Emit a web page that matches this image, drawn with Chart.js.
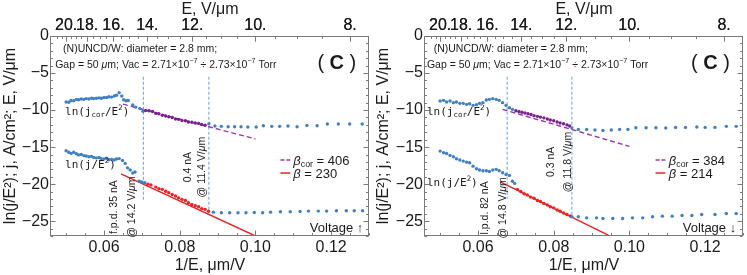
<!DOCTYPE html>
<html>
<head>
<meta charset="utf-8">
<script src="https://cdn.jsdelivr.net/npm/chart.js@4.4.1/dist/chart.umd.min.js"></script>
<style>
body { margin: 0; background: #fff; }
#wrap { display: flex; width: 747px; height: 275px; }
canvas { display: block; }
</style>
</head>
<body>
<div id="wrap">
  <canvas id="left" width="373" height="275"></canvas>
  <canvas id="right" width="374" height="275"></canvas>
</div>
<script>
// axes
var xMin = 0.046, xMax = 0.130, yMin = -27, yMax = 0;
var xTicks = [0.06, 0.08, 0.10, 0.12];
var eTicks = [20, 18, 16, 14, 12, 10, 8];
var yTicks = [0, -5, -10, -15, -20, -25];

// left panel, voltage up
var upX_L = [0.0500,0.0507,0.0513,0.0520,0.0527,0.0533,0.0540,0.0547,0.0553,0.0560,0.0567,0.0573,0.0580,0.0587,0.0593,0.0600,0.0607,0.0613,0.0620,0.0627,0.0633,0.0640,
  0.0647,0.0652,0.0658,0.0664,0.0676,0.0684,0.0695,
  0.0703,0.0710,0.0719,0.0728,0.0737,0.0745,0.0754,0.0763,0.0771,0.0780,0.0789,0.0797,0.0806,0.0815,0.0823,0.0832,0.0841,0.0850,0.0858,0.0867,0.0877,
  0.0893,0.0910,0.0928,0.0945,0.0962,0.0980,0.1002,0.1021,0.1043,0.1064,0.1086,0.1110,0.1136,0.1163,0.1190,0.1219,0.1249,0.1282];
var upY_L = [-8.9,-8.95,-8.7,-8.75,-8.55,-8.6,-8.5,-8.55,-8.45,-8.5,-8.4,-8.45,-8.4,-8.35,-8.4,-8.3,-8.3,-8.2,-8.25,-8.1,-8.0,-7.65,
  -8.1,-8.6,-8.75,-8.7,-9.3,-9.6,-9.8,
  -10.15,-10.05,-10.1,-10.2,-10.45,-10.5,-10.7,-10.8,-10.9,-11.0,-11.2,-11.25,-11.4,-11.45,-11.6,-11.65,-11.75,-11.8,-11.95,-12.05,-11.85,
  -12.16,-12.2,-12.25,-12.25,-12.25,-12.29,-12.29,-12.11,-12.2,-12.2,-12.16,-12.25,-12.07,-12.11,-11.89,-11.89,-11.89,-11.89];
var lowX_L = [0.0500,0.0507,0.0513,0.0520,0.0527,0.0533,0.0540,0.0547,0.0553,0.0560,0.0567,0.0573,0.0580,0.0587,0.0593,0.0600,0.0607,0.0613,0.0620,0.0627,0.0633,0.0640,
  0.0649,0.0656,0.0662,0.0669,0.0676,0.0682,0.0693,0.0700,0.0708,
  0.0716,0.0724,0.0737,0.0745,0.0754,0.0763,0.0771,0.0780,0.0789,0.0797,0.0806,0.0815,0.0823,0.0832,0.0841,0.0850,0.0858,0.0867,0.0876,
  0.0889,0.0910,0.0932,0.0954,0.0975,0.0997,0.1019,0.1040,0.1066,0.1092,0.1118,0.1140,0.1166,0.1188,0.1214,0.1240,0.1261,0.1283];
var lowY_L = [-15.5,-15.7,-15.85,-15.7,-15.9,-16.05,-16.0,-16.15,-16.2,-16.3,-16.25,-16.4,-16.45,-16.4,-16.55,-16.6,-16.5,-16.7,-16.65,-16.75,-16.6,-16.55,
  -16.8,-17.2,-17.8,-18.1,-18.5,-18.35,-19.6,-19.7,-19.8,
  -20.0,-20.1,-20.4,-20.6,-20.7,-20.95,-21.15,-21.4,-21.6,-21.85,-22.05,-22.2,-22.5,-22.75,-22.9,-23.05,-23.3,-23.4,-23.65,
  -23.78,-23.87,-23.87,-23.87,-23.87,-23.83,-23.87,-23.78,-23.73,-23.73,-23.69,-23.64,-23.64,-23.64,-23.6,-23.6,-23.6,-23.6];
var corFitX_L = [0.065, 0.100], corFitY_L = [-9.2, -13.9];
var fitX_L = [0.0645, 0.100], fitY_L = [-18.6, -27.0];
var markX_L = [0.0704, 0.0877], markTop_L = [-5.5, -5.5], markBot_L = [-22.1, -23.9];
var upRange_L = [0.0706, 0.0872], lowRange_L = [0.0712, 0.0880];
var betaCor_L = 406, beta_L = 230;

// right panel, voltage down
var upX_R = [0.0500,0.0509,0.0517,0.0526,0.0535,0.0543,0.0552,0.0561,0.0570,0.0578,0.0587,0.0596,0.0604,0.0613,0.0622,0.0630,0.0639,0.0648,0.0656,0.0665,0.0674,0.0683,0.0691,
  0.0700,0.0708,0.0716,0.0724,0.0732,0.0740,0.0748,0.0757,0.0765,0.0774,0.0783,0.0791,0.0800,0.0809,0.0817,0.0826,0.0835,0.0842,0.0848,
  0.0865,0.0887,0.0909,0.0930,0.0952,0.0974,0.0996,0.1017,0.1044,0.1070,0.1096,0.1122,0.1148,0.1178,0.1200,0.1226,0.1256,0.1282];
var upY_R = [-8.78,-8.69,-8.92,-8.78,-9.0,-8.92,-9.09,-9.09,-9.23,-9.14,-9.36,-9.27,-9.09,-9.0,-8.64,-8.55,-8.46,-8.55,-8.69,-9.0,-9.36,-9.68,-9.9,
  -10.1,-10.2,-10.3,-10.4,-10.5,-10.6,-10.75,-10.85,-10.95,-11.05,-11.2,-11.35,-11.45,-11.6,-11.75,-11.85,-12.0,-12.15,-12.4,
  -12.61,-12.61,-12.7,-12.75,-12.7,-12.61,-12.61,-12.39,-12.39,-12.39,-12.43,-12.34,-12.34,-12.29,-12.34,-12.34,-12.2,-12.2];
var lowX_R = [0.0500,0.0509,0.0517,0.0526,0.0535,0.0543,0.0552,0.0561,0.0570,0.0578,0.0587,0.0596,0.0604,0.0613,0.0622,0.0630,0.0639,0.0648,0.0656,0.0665,0.0674,0.0683,
  0.0691,0.0697,
  0.0704,0.0713,0.0722,0.0730,0.0739,0.0748,0.0757,0.0765,0.0774,0.0783,0.0791,0.0800,0.0809,0.0817,0.0826,0.0835,0.0844,
  0.0848,0.0865,0.0887,0.0913,0.0930,0.0956,0.0982,0.1008,0.1035,0.1061,0.1087,0.1113,0.1139,0.1165,0.1191,0.1226,0.1256,0.1282];
var lowY_R = [-15.54,-15.77,-15.86,-16.12,-16.3,-16.57,-16.75,-16.89,-17.03,-17.12,-17.57,-17.93,-18.1,-18.2,-18.2,-18.3,-18.1,-18.0,-18.2,-18.46,-18.69,-18.82,
  -19.6,-19.9,
  -20.7,-21.0,-21.3,-21.45,-21.75,-21.9,-22.2,-22.35,-22.6,-22.8,-23.05,-23.2,-23.5,-23.65,-23.9,-24.1,-24.3,
  -24.41,-24.41,-24.55,-24.55,-24.64,-24.64,-24.64,-24.55,-24.55,-24.41,-24.32,-24.32,-24.23,-24.23,-24.1,-24.1,-23.96,-23.96];
var corFitX_R = [0.0665, 0.100], corFitY_R = [-9.9, -14.9];
var fitX_R = [0.0659, 0.100], fitY_R = [-19.7, -28.3];
var markX_R = [0.0677, 0.0848], markTop_R = [-5.5, -5.5], markBot_R = [-22.0, -24.4];
var upRange_R = [0.0695, 0.0845], lowRange_R = [0.0700, 0.0846];
var betaCor_R = 384, beta_R = 214;

var SANS = '"Liberation Sans", Arial, sans-serif';
var MONO = '"DejaVu Sans Mono", monospace';
var INK = '#1a1a1a';
var BLUE = '#3f80c4', PURPLE_PT = '#7a1f8f', PURPLE_LN = '#9a34b4', RED = '#ee2020', MARK = '#6a9fd8';

function pts(xs, ys) {
  return xs.map(function (x, i) { return {x: x, y: ys[i]}; });
}

function colorBy(range, c) {
  return function (ctx) {
    var r = ctx.raw;
    return r && r.x > range[0] && r.x < range[1] ? c : BLUE;
  };
}

// segs: [text, style] ; style tokens: i, b, sup, sub
function drawRich(ctx, segs, x, y, size, fam, align) {
  var parts = segs.map(function (s) {
    var st = (s[1] || '').split(' ');
    var small = st.indexOf('sup') >= 0 || st.indexOf('sub') >= 0;
    var sz = small ? size * 0.68 : size;
    var font = (st.indexOf('i') >= 0 ? 'italic ' : '') + (st.indexOf('b') >= 0 ? 'bold ' : '') + sz + 'px ' + fam;
    ctx.font = font;
    var dy = st.indexOf('sup') >= 0 ? -size * 0.4 : (st.indexOf('sub') >= 0 ? size * 0.2 : 0);
    return {t: s[0], font: font, w: ctx.measureText(s[0]).width, dy: dy};
  });
  var total = parts.reduce(function (a, p) { return a + p.w; }, 0);
  var cx = align === 'center' ? x - total / 2 : (align === 'right' ? x - total : x);
  var base = y + size * 0.35;
  ctx.textAlign = 'left';
  ctx.textBaseline = 'alphabetic';
  parts.forEach(function (p) {
    ctx.font = p.font;
    ctx.fillText(p.t, cx, base + p.dy);
    cx += p.w;
  });
}

var frameTicks = {
  id: 'frameTicks',
  afterDraw: function (chart) {
    var ctx = chart.ctx, a = chart.chartArea;
    var sx = chart.scales.x, sx2 = chart.scales.x2, sy = chart.scales.y;
    ctx.save();
    ctx.strokeStyle = '#7a7a7a';
    ctx.lineWidth = 1;
    var L = Math.round(a.left) - 0.5, R = Math.round(a.right) - 0.5, T = Math.round(a.top) + 0.5, B = Math.round(a.bottom) - 0.5;
    ctx.strokeRect(L, T, R - L, B - T);
    ctx.beginPath();
    sx.ticks.forEach(function (t) {
      var p = Math.round(sx.getPixelForValue(t.value)) + 0.5, len = t.label ? 5 : 2.5;
      ctx.moveTo(p, B); ctx.lineTo(p, B - len);
    });
    sx2.ticks.forEach(function (t) {
      var p = Math.round(sx2.getPixelForValue(t.value)) + 0.5, len = t.label ? 5 : 2.5;
      ctx.moveTo(p, T); ctx.lineTo(p, T + len);
    });
    sy.ticks.forEach(function (t) {
      var p = Math.round(sy.getPixelForValue(t.value)) + 0.5, len = t.label ? 5 : 2.5;
      ctx.moveTo(L, p); ctx.lineTo(L + len, p);
      ctx.moveTo(R, p); ctx.lineTo(R - len, p);
    });
    ctx.stroke();
    ctx.restore();
  }
};

var notesPlugin = {
  id: 'notes',
  afterDraw: function (chart, args, opts) {
    var ctx = chart.ctx, sx = chart.scales.x, sy = chart.scales.y;
    ctx.save();
    ctx.fillStyle = INK;
    opts.items.forEach(function (n) {
      var px = sx.getPixelForValue(n.x), py = sy.getPixelForValue(n.y);
      if (n.rot) {
        ctx.save();
        ctx.translate(px, py);
        ctx.rotate(-Math.PI / 2);
        drawRich(ctx, n.segs, 0, 0, n.size, n.fam || SANS, 'center');
        ctx.restore();
      } else {
        drawRich(ctx, n.segs, px, py, n.size, n.fam || SANS, n.align || 'left');
      }
    });
    // legend
    var lg = opts.legend;
    var x0 = sx.getPixelForValue(lg.x0), x1 = sx.getPixelForValue(lg.x1), tx = sx.getPixelForValue(lg.tx);
    var y1 = sy.getPixelForValue(lg.y1), y2 = sy.getPixelForValue(lg.y2);
    ctx.lineWidth = 1.5;
    ctx.strokeStyle = PURPLE_LN;
    ctx.setLineDash([4, 2]);
    ctx.beginPath(); ctx.moveTo(x0, y1); ctx.lineTo(x1, y1); ctx.stroke();
    ctx.setLineDash([]);
    ctx.strokeStyle = RED;
    ctx.beginPath(); ctx.moveTo(x0, y2); ctx.lineTo(x1, y2); ctx.stroke();
    drawRich(ctx, [['\u03b2', 'i'], ['cor', 'sub'], [' = ' + lg.betaCor]], tx, y1, 13, SANS, 'left');
    drawRich(ctx, [['\u03b2', 'i'], [' = ' + lg.beta]], tx, y2, 13, SANS, 'left');
    ctx.restore();
  }
};

function range(a, b, step) {
  var out = [];
  for (var i = Math.round(a / step); i <= Math.round(b / step); i++) out.push(+(i * step).toFixed(6));
  return out;
}

function buildPanel(id, yw, p) {
  var xMinor = range(0.05, 0.13, 0.005);
  var eMinor = range(7.5, 21, 0.5).map(function (e) { return 1 / e; })
    .filter(function (v) { return v >= xMin && v <= xMax; });
  var yMinor = range(-27, 0, 1);
  var tickFont = {family: SANS, size: 16};
  var noGrid = {display: false, drawTicks: false, tickLength: 0};
  new Chart(document.getElementById(id), {
    type: 'scatter',
    data: {
      datasets: [
        {data: pts(p.upX, p.upY), pointRadius: 1.7, pointBorderWidth: 0, pointBackgroundColor: colorBy(p.upRange, PURPLE_PT)},
        {data: pts(p.lowX, p.lowY), pointRadius: 1.7, pointBorderWidth: 0, pointBackgroundColor: colorBy(p.lowRange, RED)},
        {data: pts(p.corFitX, p.corFitY), showLine: true, borderColor: PURPLE_LN, borderWidth: 1.4, borderDash: [5, 3], pointRadius: 0},
        {data: pts(p.fitX, p.fitY), showLine: true, borderColor: RED, borderWidth: 1.4, pointRadius: 0},
        {data: pts([p.markX[0], p.markX[0]], [p.markTop[0], p.markBot[0]]), showLine: true, borderColor: MARK, borderWidth: 1, borderDash: [3, 2], pointRadius: 0},
        {data: pts([p.markX[1], p.markX[1]], [p.markTop[1], p.markBot[1]]), showLine: true, borderColor: MARK, borderWidth: 1, borderDash: [3, 2], pointRadius: 0}
      ]
    },
    options: {
      responsive: false,
      animation: false,
      layout: {padding: {left: 0, right: 1, top: 0, bottom: 0}},
      plugins: {
        legend: {display: false},
        tooltip: {enabled: false},
        notes: {items: p.notes, legend: p.legend}
      },
      scales: {
        x: {
          type: 'linear', position: 'bottom', min: xMin, max: xMax,
          grid: noGrid, border: {display: false},
          afterBuildTicks: function (s) { s.ticks = xMinor.map(function (v) { return {value: v}; }); },
          afterFit: function (s) { s.height = 39; },
          ticks: {
            font: tickFont, color: INK, padding: 2, autoSkip: false, maxRotation: 0,
            callback: function (v) {
              return xTicks.some(function (t) { return Math.abs(t - v) < 1e-9; }) ? v.toFixed(2) : '';
            }
          },
          title: {display: true, text: '1/E, \u03bcm/V', font: tickFont, color: INK, padding: 0}
        },
        x2: {
          type: 'linear', axis: 'x', position: 'top', min: xMin, max: xMax,
          grid: noGrid, border: {display: false},
          afterBuildTicks: function (s) {
            s.ticks = eTicks.map(function (e) { return {value: 1 / e}; })
              .concat(eMinor.map(function (v) { return {value: v}; }));
          },
          afterFit: function (s) { s.height = 36; },
          ticks: {
            font: tickFont, color: INK, padding: 1, autoSkip: false, maxRotation: 0,
            callback: function (v) {
              var E = 1 / v;
              for (var i = 0; i < eTicks.length; i++) if (Math.abs(eTicks[i] - E) < 1e-6) return eTicks[i] + '.';
              return '';
            }
          },
          title: {display: true, text: 'E, V/\u03bcm', font: tickFont, color: INK, padding: 0}
        },
        y: {
          min: yMin, max: yMax,
          grid: noGrid, border: {display: false},
          afterBuildTicks: function (s) { s.ticks = yMinor.map(function (v) { return {value: v}; }); },
          afterFit: function (s) { s.width = yw; },
          ticks: {
            font: tickFont, color: INK, padding: 2, autoSkip: false,
            callback: function (v) {
              if (yTicks.indexOf(v) < 0) return '';
              return v === 0 ? '0' : '\u2212' + (-v);
            }
          },
          title: {display: true, text: 'ln(j/E\u00b2); j, A/cm\u00b2; E, V/\u03bcm', font: tickFont, color: INK, padding: {top: 1, bottom: 0}}
        }
      }
    },
    plugins: [frameTicks, notesPlugin]
  });
}

function headerNotes(x1, x2, xc) {
  return [
    {x: x1, y: -1.62, size: 10.5, segs: [['(N)UNCD/W: diameter = 2.8 mm;']]},
    {x: x2, y: -3.78, size: 10.5, segs: [['Gap = 50 '], ['\u03bc', 'i'], ['m; Vac = 2.71\u00d710'], ['\u22127', 'sup'], [' \u00f7 2.73\u00d710'], ['\u22127', 'sup'], [' Torr']]},
    {x: xc, y: -3.5, size: 20, align: 'center', segs: [['( '], ['C', 'b'], [' )']]}
  ];
}

var notes_L = headerNotes(0.0492, 0.0471, 0.1215).concat([
  {x: 0.0497, y: -10.13, size: 11, fam: MONO, segs: [['ln(j'], ['cor', 'sub'], ['/E'], ['2', 'sup'], [')']]},
  {x: 0.0497, y: -17.28, size: 11, fam: MONO, segs: [['ln(j/E'], ['2', 'sup'], [')']]},
  {x: 0.0625, y: -23.1, size: 10.5, rot: true, segs: [['f.p.d. 35 nA']]},
  {x: 0.0672, y: -23.1, size: 10.5, rot: true, segs: [['@ 14.2 V/'], ['\u03bc', 'i'], ['m']]},
  {x: 0.0819, y: -17.7, size: 10.5, rot: true, segs: [['0.4 nA']]},
  {x: 0.0858, y: -17.7, size: 10.5, rot: true, segs: [['@ 11.4 V/'], ['\u03bc', 'i'], ['m']]},
  {x: 0.1285, y: -25.8, size: 13, align: 'right', segs: [['Voltage \u2191']]}
]);

var notes_R = headerNotes(0.0483, 0.0465, 0.1214).concat([
  {x: 0.0465, y: -10.13, size: 11, fam: MONO, segs: [['ln(j'], ['cor', 'sub'], ['/E'], ['2', 'sup'], [')']]},
  {x: 0.0465, y: -19.7, size: 11, fam: MONO, segs: [['ln(j/E'], ['2', 'sup'], [')']]},
  {x: 0.0617, y: -23.2, size: 10.5, rot: true, segs: [['l.p.d. 82 nA']]},
  {x: 0.0664, y: -23.2, size: 10.5, rot: true, segs: [['@ 14.8 V/'], ['\u03bc', 'i'], ['m']]},
  {x: 0.0792, y: -17.0, size: 10.5, rot: true, segs: [['0.3 nA']]},
  {x: 0.0837, y: -17.0, size: 10.5, rot: true, segs: [['@ 11.8 V/'], ['\u03bc', 'i'], ['m']]},
  {x: 0.1282, y: -25.8, size: 13, align: 'right', segs: [['Voltage \u2193']]}
]);

buildPanel('left', 51, {
  upX: upX_L, upY: upY_L, lowX: lowX_L, lowY: lowY_L,
  corFitX: corFitX_L, corFitY: corFitY_L, fitX: fitX_L, fitY: fitY_L,
  markX: markX_L, markTop: markTop_L, markBot: markBot_L,
  upRange: upRange_L, lowRange: lowRange_L, notes: notes_L,
  legend: {x0: 0.1066, x1: 0.1092, tx: 0.1100, y1: -16.74, y2: -18.5, betaCor: betaCor_L, beta: beta_L}
});

buildPanel('right', 52, {
  upX: upX_R, upY: upY_R, lowX: lowX_R, lowY: lowY_R,
  corFitX: corFitX_R, corFitY: corFitY_R, fitX: fitX_R, fitY: fitY_R,
  markX: markX_R, markTop: markTop_R, markBot: markBot_R,
  upRange: upRange_R, lowRange: lowRange_R, notes: notes_R,
  legend: {x0: 0.1069, x1: 0.1095, tx: 0.1104, y1: -16.74, y2: -18.5, betaCor: betaCor_R, beta: beta_R}
});
</script>
</body>
</html>
